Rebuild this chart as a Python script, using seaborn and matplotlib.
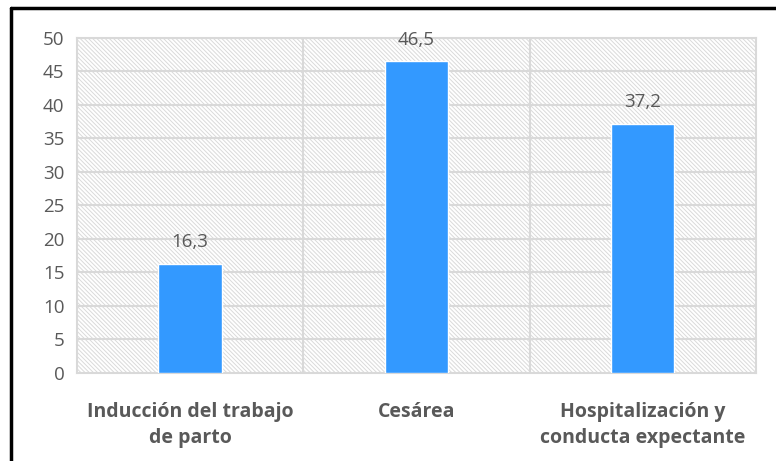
import matplotlib
matplotlib.use('Agg')
import matplotlib.pyplot as plt
import seaborn as sns
import pandas as pd
from matplotlib.patches import Rectangle
from matplotlib.lines import Line2D

# data
categories = ['Inducción del trabajo\nde parto', 'Cesárea', 'Hospitalización y\nconducta expectante']
values = [16.3, 46.5, 37.2]
value_labels = ['16,3', '46,5', '37,2']

df = pd.DataFrame({'cat': categories, 'val': values})

sns.set_style('white')
plt.rcParams['font.family'] = ['Open Sans', 'DejaVu Sans']
plt.rcParams['hatch.color'] = '#dadada'
plt.rcParams['hatch.linewidth'] = 0.7

grid_col = '#d9d9d9'
txt_col = '#595959'

fig = plt.figure(figsize=(7.76, 4.61), dpi=100)
ax = fig.add_axes([0.0992, 0.191, 0.875, 0.727])

# hatched plot background
ax.add_patch(Rectangle((0, 0), 1, 1, transform=ax.transAxes, facecolor='white',
                       edgecolor='#dadada', hatch='\\' * 8, linewidth=0, zorder=0))

sns.barplot(data=df, x='cat', y='val', color='#3399ff', width=0.28, saturation=1,
            ax=ax, zorder=3)

ax.set_ylim(0, 50)
ax.set_xlim(-0.5, 2.5)
ax.set_yticks(range(0, 51, 5))
for y in range(5, 51, 5):
    ax.axhline(y, color=grid_col, lw=1.5, zorder=1)
for x in [0.5, 1.5]:
    ax.axvline(x, color=grid_col, lw=1.5, zorder=1)
for s in ax.spines.values():
    s.set_color(grid_col)
    s.set_linewidth(1.5)

for i, (v, lab) in enumerate(zip(values, value_labels)):
    ax.text(i, v + 1.9, lab, ha='center', va='bottom', fontsize=13.5, color=txt_col, zorder=4)

ax.set_xlabel('')
ax.set_ylabel('')
ax.tick_params(axis='both', length=0, labelcolor=txt_col)
ax.tick_params(axis='y', labelsize=13.5, pad=9)
ax.tick_params(axis='x', labelsize=14, pad=21)
for t in ax.get_xticklabels():
    t.set_fontweight('bold')
    t.set_linespacing(1.4)

# outer frame (top and left)
fig.add_artist(Line2D([11 / 776, 11 / 776], [0, 1 - 8 / 461], transform=fig.transFigure, color='black', lw=2.5))
fig.add_artist(Line2D([11 / 776, 1], [1 - 8 / 461, 1 - 8 / 461], transform=fig.transFigure, color='black', lw=2.5))

fig.savefig('out.png', dpi=100)
